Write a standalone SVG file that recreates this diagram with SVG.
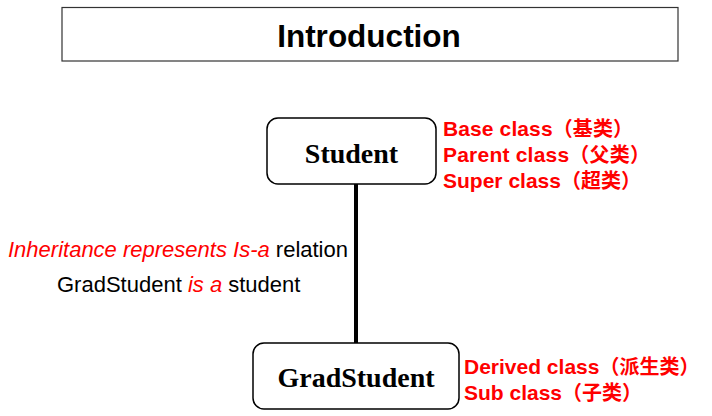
<svg xmlns="http://www.w3.org/2000/svg" width="712" height="416" viewBox="0 0 712 416">
<style>
.box{fill:#fff;stroke:#000;stroke-width:1.5}
.node{font-family:"Liberation Serif","Times New Roman",serif;font-weight:bold;font-size:28px;fill:#000;text-anchor:middle}
.red{font-family:"Liberation Sans",Arial,"Noto Sans CJK SC",sans-serif;font-weight:bold;font-size:21px;fill:#ff0000}
.cjk{font-family:"Noto Sans CJK SC",sans-serif;font-size:20px}
.note{font-family:"Liberation Sans",Arial,sans-serif;font-size:22px;fill:#000}
.it{font-style:italic;fill:#ff0000}
</style>
<rect width="712" height="416" fill="#fff"/>
<g id="title">
<rect x="62" y="7.5" width="616" height="53.5" fill="#fff" stroke="#333" stroke-width="1.2"/>
<text x="369" y="47" font-family="'Liberation Sans',Arial,sans-serif" font-weight="bold" font-size="31.5" text-anchor="middle">Introduction</text>
</g>
<g id="connectors">
<line x1="356" y1="184" x2="356" y2="343" stroke="#000" stroke-width="4"/>
</g>
<g id="student">
<rect class="box" x="267" y="118" width="169" height="66" rx="11"/>
<text class="node" x="351.5" y="162.5">Student</text>
<text class="red" x="443" y="136" textLength="190" lengthAdjust="spacing">Base class<tspan class="cjk">（基类）</tspan></text>
<text class="red" x="443" y="162" textLength="207" lengthAdjust="spacing">Parent class<tspan class="cjk">（父类）</tspan></text>
<text class="red" x="443" y="188" textLength="198" lengthAdjust="spacing">Super class<tspan class="cjk">（超类）</tspan></text>
</g>
<g id="gradstudent">
<rect class="box" x="253" y="343" width="206" height="66" rx="11"/>
<text class="node" x="356" y="387">GradStudent</text>
<text class="red" x="464" y="374">Derived class<tspan class="cjk">（派生类）</tspan></text>
<text class="red" x="464" y="400">Sub class<tspan class="cjk">（子类）</tspan></text>
</g>
<g id="notes">
<text class="note" x="8" y="257"><tspan class="it">Inheritance represents Is-a</tspan> relation</text>
<text class="note" x="57" y="292">GradStudent <tspan class="it">is a</tspan> student</text>
</g>
</svg>
